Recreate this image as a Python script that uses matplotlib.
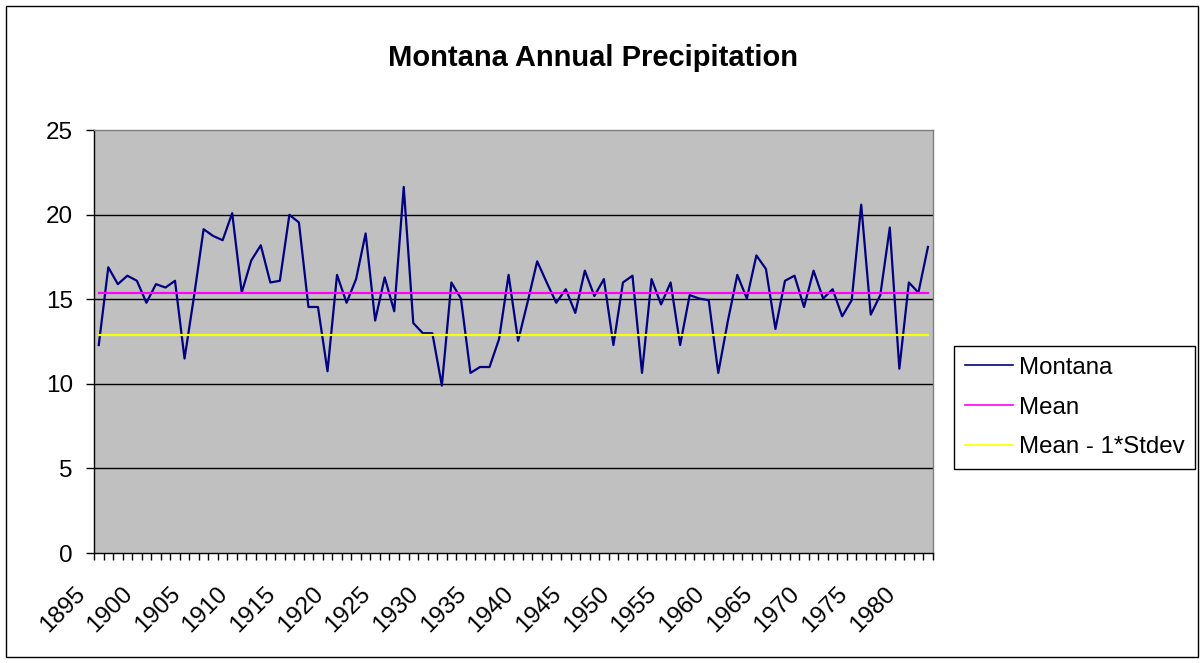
import matplotlib
matplotlib.use("Agg")
import matplotlib.pyplot as plt
from matplotlib.patches import Rectangle
from matplotlib.transforms import ScaledTranslation
import numpy as np

plt.rcParams['font.family'] = ['Liberation Sans', 'DejaVu Sans']

years = list(range(1895, 1983))
montana = [12.3, 16.9, 15.9, 16.4, 16.1, 14.8, 15.9, 15.7, 16.1, 11.5,
           15.2, 19.15, 18.75, 18.5, 20.1, 15.4, 17.3, 18.2, 16.0, 16.1,
           20.0, 19.55, 14.55, 14.55, 10.75, 16.45, 14.8, 16.2, 18.9, 13.75,
           16.3, 14.3, 21.65, 13.6, 13.0, 13.0, 9.9, 16.0, 15.05, 10.65,
           11.0, 11.0, 12.65, 16.45, 12.55, 14.85, 17.25, 16.0, 14.8, 15.6,
           14.2, 16.7, 15.2, 16.2, 12.3, 16.0, 16.4, 10.65, 16.2, 14.7,
           16.0, 12.3, 15.25, 15.05, 14.95, 10.65, 13.7, 16.45, 15.05, 17.6,
           16.8, 13.25, 16.1, 16.4, 14.55, 16.7, 15.05, 15.6, 14.0, 14.95,
           20.6, 14.1, 15.25, 19.25, 10.9, 16.0, 15.4, 18.1]
mean_value = 15.37
mean_minus_std = 12.9
yticks = [0, 5, 10, 15, 20, 25]

W, H = 1202, 663
fig = plt.figure(figsize=(W / 100, H / 100), dpi=100)
fig.patch.set_facecolor('white')

# chart border
fig.patches.append(Rectangle((6 / W, 1 - 657 / H), (1197.5 - 6) / W, (657 - 6) / H,
                             transform=fig.transFigure, fill=False,
                             edgecolor='black', linewidth=1.0))

left, right, top, bottom = 94, 932.7, 130.3, 553
ax = fig.add_axes([left / W, 1 - bottom / H, (right - left) / W, (bottom - top) / H])
ax.set_facecolor('#C0C0C0')

x = np.arange(len(years))
ax.plot(x, montana, color='#000080', lw=1.6, label='Montana', zorder=3)
ax.plot(x, [mean_value] * len(years), color='#FF00FF', lw=1.6, label='Mean', zorder=3)
ax.plot(x, [mean_minus_std] * len(years), color='#FFFF00', lw=1.6,
        label='Mean - 1*Stdev', zorder=3)

ax.set_xlim(-0.5, len(years) - 0.5)
ax.set_ylim(0, 25)
ax.set_yticks(yticks)
ax.set_yticklabels([str(v) for v in yticks])
for v in yticks[1:-1]:
    ax.axhline(v, color='black', lw=1.0, zorder=1)

for s in ['top', 'right']:
    ax.spines[s].set_color('#808080')
    ax.spines[s].set_linewidth(1.0)
for s in ['left', 'bottom']:
    ax.spines[s].set_color('black')
    ax.spines[s].set_linewidth(1.0)

ax.tick_params(axis='y', direction='out', length=5.8, width=1, pad=9.4,
               labelsize=17.5, colors='black')
label_idx = [i for i, y in enumerate(years) if y % 5 == 0]
ax.set_xticks(label_idx)
ax.set_xticklabels([str(years[i]) for i in label_idx], rotation=45,
                   ha='right', va='top', rotation_mode='anchor')
ax.set_xticks(np.arange(-0.5, len(years), 1.0), minor=True)
ax.tick_params(axis='x', which='major', length=0, pad=21.6, labelsize=17.5)
ax.tick_params(axis='x', which='minor', direction='out', length=5, width=1)
off = ScaledTranslation(-0.25, 0, fig.dpi_scale_trans)
for lbl in ax.get_xticklabels():
    lbl.set_transform(lbl.get_transform() + off)

fig.text(593.5 / W, 1 - 58 / H, 'Montana Annual Precipitation', ha='center',
         va='center', fontsize=21, fontweight='bold')

leg = fig.legend(loc='upper left', bbox_to_anchor=(954 / W, 1 - 346 / H),
                 fontsize=17.3, frameon=True, fancybox=False, framealpha=1,
                 edgecolor='black', handlelength=2.0, handletextpad=0.25,
                 labelspacing=0.74, borderpad=0.45, borderaxespad=0)
leg.get_frame().set_linewidth(1.0)
for h in leg.get_lines():
    h.set_linewidth(1.2)

fig.savefig('out.png', dpi=100)
